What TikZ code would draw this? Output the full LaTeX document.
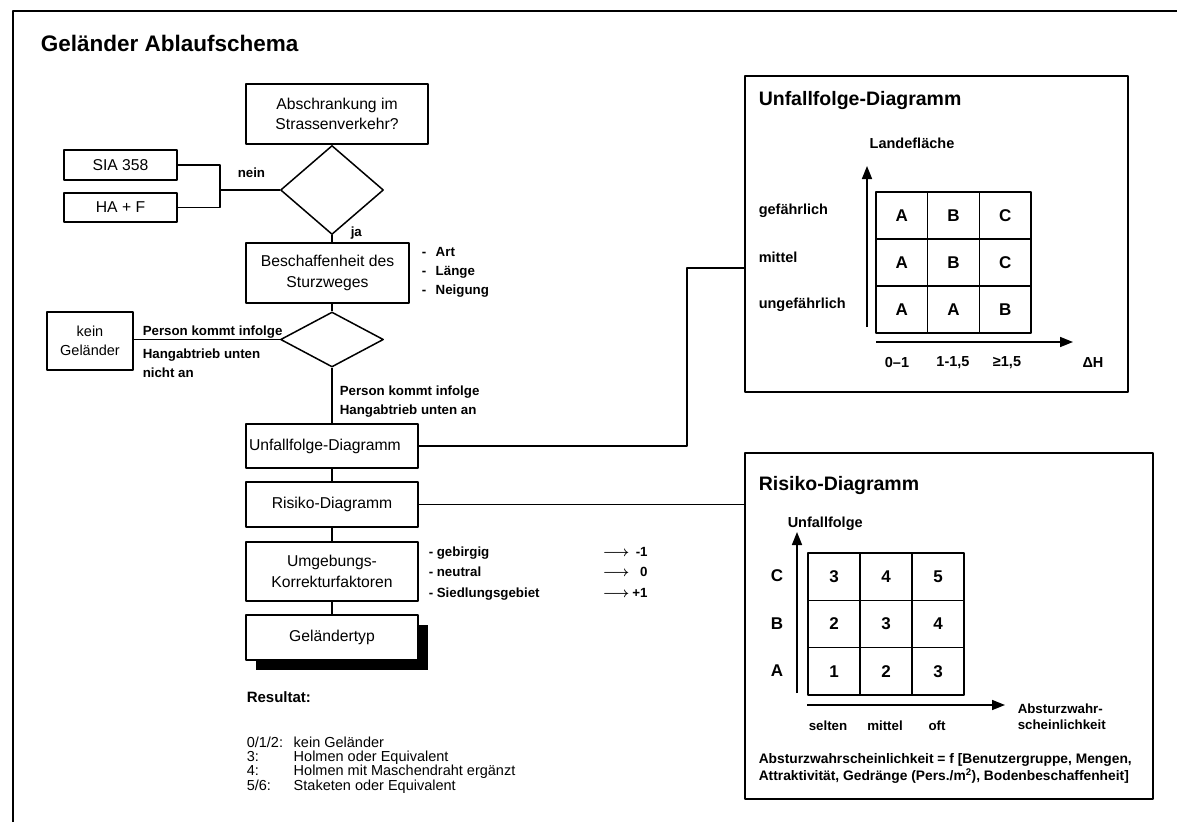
\documentclass[tikz,border=0pt]{standalone}
\usepackage{fontspec}
\setmainfont{Liberation Sans}
\usetikzlibrary{shapes.geometric,shadows,arrows.meta}

\newcommand\titlefnt{\bfseries\fontsize{22.5pt}{26pt}\selectfont}
\newcommand\headfnt{\bfseries\fontsize{19.5pt}{23pt}\selectfont}
\newcommand\boxfnt{\fontsize{15.7pt}{20.5pt}\selectfont}
\newcommand\smallboxfnt{\fontsize{14.5pt}{19pt}\selectfont}
\newcommand\notefnt{\bfseries\fontsize{13.3pt}{19pt}\selectfont}
\newcommand\axisfnt{\bfseries\fontsize{14.5pt}{17pt}\selectfont}
\newcommand\cellfnt{\bfseries\fontsize{17pt}{20pt}\selectfont}
\newcommand\listfnt{\fontsize{14.5pt}{13pt}\selectfont}
\newcommand\toarrow{{\boldmath$\longrightarrow$}}

\begin{document}
\begin{tikzpicture}[x=1pt, y=-1pt, line width=1.5pt, line join=round,
    flowbox/.style={draw, fill=white, align=center, inner sep=2pt, font=\boxfnt},
    decision/.style={diamond, draw, inner sep=0pt},
    note/.style={inner sep=0pt, align=left, font=\notefnt},
    panel/.style={draw, line width=1.6pt, inner sep=0pt},
    cellbox/.style={draw, minimum width=52pt, minimum height=47pt, inner sep=0pt, font=\cellfnt},
    axis/.style={line width=1.6pt, -{Triangle[length=13pt,width=10pt]}}]
\useasboundingbox (0,0) rectangle (1177,822);
\draw[line width=2pt] (13,822) -- (13,11) -- (1177,11);
\node[anchor=west, inner sep=0pt, font=\titlefnt] (title) at (40,43) {Geländer Ablaufschema};

% Ablauf
\node[flowbox, minimum width=182pt, minimum height=60pt] (q1) at (337,114) {Abschrankung im\\Strassenverkehr?};
\node[decision, minimum width=103pt, minimum height=89pt] (d1) at (332,190) {};
\node[flowbox, minimum width=113pt, minimum height=30pt] (sia) at (120.5,165) {SIA 358};
\node[flowbox, minimum width=113pt, minimum height=29pt] (ha) at (120.5,207.5) {HA + F};
\coordinate (join) at (220,190);
\node[note, anchor=west] (nein) at (237,173) {nein};
\node[note, anchor=west] (ja) at (350,233) {ja};
\node[flowbox, minimum width=163pt, minimum height=60pt] (q2) at (327.5,273) {Beschaffenheit des\\Sturzweges};
\node[note, anchor=base west] (merkmal) at (421,256)
  {\begin{tabular}[t]{@{}p{14pt}@{}l@{}}-&Art\\-&Länge\\-&Neigung\end{tabular}};
\node[decision, minimum width=103pt, minimum height=55pt] (d2) at (332,339.5) {};
\node[flowbox, minimum width=86pt, minimum height=58pt, font=\smallboxfnt] (kein) at (90,341) {kein\\Geländer};
\node[note, anchor=base west] (nicht1) at (142,335) {Person kommt infolge};
\node[note, anchor=north west] (nicht2) at (142,348) {Hangabtrieb unten\\nicht an};
\node[note, anchor=north west] (unten) at (339,385) {Person kommt infolge\\Hangabtrieb unten an};
\node[flowbox, minimum width=172pt, minimum height=44pt, text width=166pt, align=left] (u) at (332,446) {Unfallfolge-Diagramm};
\node[flowbox, minimum width=172pt, minimum height=45pt] (r) at (332,504.5) {Risiko-Diagramm};
\node[flowbox, minimum width=172pt, minimum height=59pt] (k) at (332,571.5) {Umgebungs-\\Korrekturfaktoren};
\node[flowbox, minimum width=172pt, minimum height=45pt,
  drop shadow={shadow xshift=10pt, shadow yshift=-10pt, fill=black, opacity=1}] (g) at (332,637.5) {Geländertyp};
\node[note, anchor=base west, font=\bfseries\fontsize{13.3pt}{20.5pt}\selectfont] (faktor) at (428,556)
  {\begin{tabular}[t]{@{}p{174pt}@{}l@{\hspace{3pt}}r@{}}- gebirgig&\toarrow&-1\\- neutral&\toarrow&0\\- Siedlungsgebiet&\toarrow&+1\end{tabular}};

\draw (q1.south -| d1.north) -- (d1.north);
\draw (d1.south) -- (d1.south |- q2.north);
\draw (sia.east) -| (join) |- (ha.east);
\draw (join) -- (d1.west);
\draw (q2.south -| d2.north) -- (d2.north);
\draw (d2.west) -- (d2.west -| kein.east);
\draw (d2.south) -- (u.north);
\draw (u.south) -- (r.north);
\draw (r.south) -- (k.north);
\draw (k.south) -- (g.north);

\node[anchor=west, inner sep=0pt, font=\bfseries\fontsize{15pt}{18pt}\selectfont] (res) at (246,697) {Resultat:};
\node[anchor=base west, inner sep=0pt, font=\listfnt] (reslist) at (246,747)
  {\begin{tabular}[t]{@{}p{47pt}@{}l@{}}0/1/2:&kein Geländer\\3:&Holmen oder Equivalent\\
   4:&Holmen mit Maschendraht ergänzt\\5/6:&Staketen oder Equivalent\end{tabular}};

% Unfallfolge-Diagramm
\node[panel, minimum width=383pt, minimum height=316pt] (ufd) at (936.5,234) {};
\node[anchor=west, inner sep=0pt, font=\headfnt] (ufdtitle) at (758,100) {Unfallfolge-Diagramm};
\node[inner sep=0pt, font=\axisfnt] (lf) at (912,143) {Landefläche};
\coordinate (uy0) at (867,327);
\coordinate (uy1) at (867,166);
\coordinate (ux0) at (876,342);
\coordinate (ux1) at (1073,342);
\draw[axis] (uy0) -- (uy1);
\draw[axis] (ux0) -- (ux1);
\foreach \rowvals [count=\j from 0] in {{A,B,C},{A,B,C},{A,A,B}}
  \foreach \v [count=\i from 0] in \rowvals
    \node[cellbox, minimum width=51.7pt] (uf-\j-\i) at ({901.85+51.7*\i},{215.5+47*\j}) {\v};
\foreach \t/\yy [count=\n] in {gefährlich/211, mittel/257, ungefährlich/305}
  \node[anchor=west, inner sep=0pt, font=\axisfnt] (ufrow\n) at (758,\yy) {\t};
\node[font=\axisfnt, inner sep=0pt] (dh1) at (897,363) {0–1};
\node[font=\axisfnt, inner sep=0pt] (dh2) at (953,363) {1-1,5};
\node[font=\axisfnt, inner sep=0pt] (dh3) at (1007,363) {≥1,5};
\node[font=\axisfnt, inner sep=0pt] (dh) at (1093,363) {ΔH};
\coordinate (ufdin) at (745,268);
\draw (u.east) -| ([xshift=-58pt]ufdin) -- (ufdin);

% Risiko-Diagramm
\node[panel, minimum width=408pt, minimum height=346pt] (rd) at (949,626) {};
\node[anchor=west, inner sep=0pt, font=\headfnt] (rdtitle) at (758,485) {Risiko-Diagramm};
\node[anchor=west, inner sep=0pt, font=\axisfnt] (rkaxis) at (787,524) {Unfallfolge};
\coordinate (ry0) at (797,693);
\coordinate (ry1) at (797,532);
\coordinate (rx0) at (807,705);
\coordinate (rx1) at (1005,705);
\draw[axis] (ry0) -- (ry1);
\draw[axis] (rx0) -- (rx1);
\foreach \rowvals [count=\j from 0] in {{3,4,5},{2,3,4},{1,2,3}}
  \foreach \v [count=\i from 0] in \rowvals
    \node[cellbox, minimum height=47.3pt] (rk-\j-\i) at ({834+52*\i},{576.65+47.3*\j}) {\v};
\foreach \t/\yy [count=\n] in {C/576, B/624, A/671}
  \node[inner sep=0pt, font=\cellfnt] (rkrow\n) at (777,\yy) {\t};
\node[font=\notefnt, inner sep=0pt] (p1) at (828,726) {selten};
\node[font=\notefnt, inner sep=0pt] (p2) at (885,726) {mittel};
\node[font=\notefnt, inner sep=0pt] (p3) at (937,726) {oft};
\node[note, anchor=north west, font=\bfseries\fontsize{13.3pt}{16pt}\selectfont] (pw) at (1017,703) {Absturzwahr-\\scheinlichkeit};
\node[note, anchor=north west, font=\bfseries\fontsize{13.8pt}{17pt}\selectfont] (formel) at (758,753)
  {Absturzwahrscheinlichkeit = f [Benutzergruppe, Mengen,\\Attraktivität, Gedränge (Pers./m\textsuperscript{2}), Bodenbeschaffenheit]};
\draw (r.east) -- (r.east -| rd.west);
\end{tikzpicture}
\end{document}
